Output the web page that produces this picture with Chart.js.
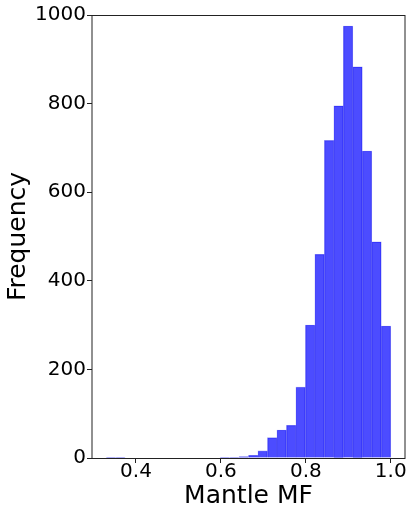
<!DOCTYPE html>
<html>
<head>
<meta charset="utf-8">
<script src="https://cdn.jsdelivr.net/npm/chart.js@4"></script>
<style>
  html, body { margin: 0; padding: 0; background: #fff; }
  #wrap { width: 415px; height: 519px; }
</style>
</head>
<body>
<div id="wrap"><canvas id="histChart"></canvas></div>
<script>
// histogram: 30 bins between 0.33 and 1.0
const binStart = 0.33;
const binEnd = 1.0;
const binCounts = [1, 1, 0, 0, 0, 0, 0, 0, 0, 0, 0, 0, 1, 1, 3,
                   6, 16, 46, 63, 74, 160, 300, 460, 717, 795, 975, 883, 693, 488, 298];
const xTicks = [0.4, 0.6, 0.8, 1.0];
const yTicks = [0, 200, 400, 600, 800, 1000];

const binWidth = (binEnd - binStart) / binCounts.length;
const points = binCounts.map((c, i) => ({ x: binStart + (i + 0.5) * binWidth, y: c }));

// matplotlib-style 5% margins
const pad = (binEnd - binStart) * 0.05;

const font = "'DejaVu Sans', sans-serif";

// frame round the plot area (all four spines)
const spines = {
  id: "spines",
  afterDraw(chart) {
    const { ctx, chartArea: a } = chart;
    ctx.save();
    ctx.strokeStyle = "#222";
    ctx.lineWidth = 1;
    ctx.strokeRect(a.left, a.top + 0.5, a.right - a.left, a.bottom - a.top);
    ctx.restore();
  },
};

new Chart(document.getElementById("histChart"), {
  type: "bar",
  data: {
    datasets: [{
      label: "Mantle MF",
      data: points,
      backgroundColor: "rgba(0, 0, 255, 0.7)",
      borderColor: "rgba(30, 30, 225, 0.45)",
      borderWidth: 0.6,
      barPercentage: 1,
      categoryPercentage: 1,
    }],
  },
  options: {
    responsive: true,
    maintainAspectRatio: false,
    animation: false,
    layout: { padding: { top: 15, right: 10, left: 0, bottom: 0 } },
    plugins: { legend: { display: false }, tooltip: { enabled: false } },
    scales: {
      x: {
        type: "linear",
        offset: false,
        min: binStart - pad,
        max: binEnd + pad,
        afterBuildTicks: s => { s.ticks = xTicks.map(v => ({ value: v })); },
        afterFit: s => { s.height = 61; },
        border: { display: false },
        grid: { offset: false, drawOnChartArea: false, drawTicks: true, tickLength: 5, tickColor: "#222" },
        ticks: {
          color: "#000",
          padding: -1,
          maxRotation: 0,
          autoSkip: false,
          font: { family: font, size: 20, lineHeight: 1 },
          callback: v => v.toFixed(1),
        },
        title: {
          display: true,
          text: "Mantle MF",
          color: "#000",
          font: { family: font, size: 25, lineHeight: 1.2 },
          padding: { top: 0, bottom: 7.5 },
        },
      },
      y: {
        min: 0,
        max: 1000,
        afterBuildTicks: s => { s.ticks = yTicks.map(v => ({ value: v })); },
        afterFit: s => { s.width = 92; },
        border: { display: false },
        grid: { drawOnChartArea: false, drawTicks: true, tickLength: 5, tickColor: "#222" },
        ticks: {
          color: "#000",
          padding: 1,
          font: { family: font, size: 20, lineHeight: 1 },
          callback: v => String(v),
        },
        title: {
          display: true,
          text: "Frequency",
          color: "#000",
          font: { family: font, size: 25, lineHeight: 1.2 },
          padding: { top: 3, bottom: 0 },
        },
      },
    },
  },
  plugins: [spines],
});
</script>
</body>
</html>
